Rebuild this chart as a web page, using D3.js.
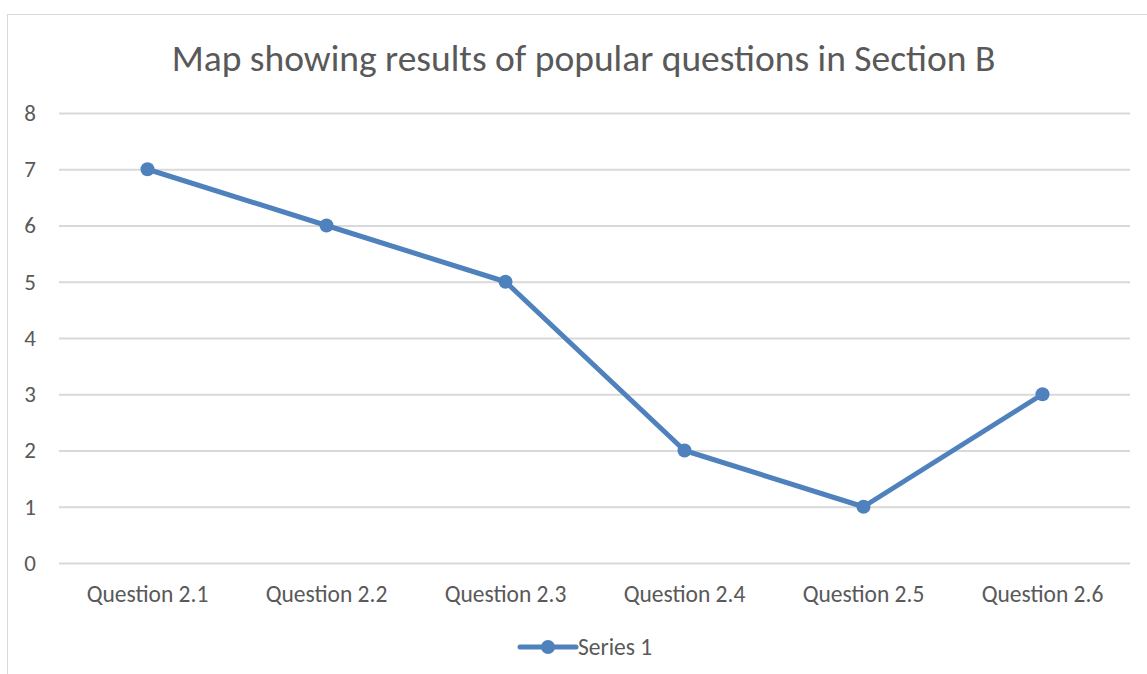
<!DOCTYPE html>
<html><head><meta charset="utf-8">
<script src="https://cdn.jsdelivr.net/npm/d3@7"></script>
<style>body{margin:0;background:#fff}</style>
</head><body><svg id="c" width="1147" height="674"></svg>
<script>
const categories = ["Question 2.1","Question 2.2","Question 2.3","Question 2.4","Question 2.5","Question 2.6"];
const values = [7,6,5,2,1,3];
const yTicks = [0,1,2,3,4,5,6,7,8];
const title = "Map showing results of popular questions in Section B";
const seriesName = "Series 1";

const FONT = "Carlito,Calibri,'Open Sans','Liberation Sans',sans-serif";
const svg = d3.select("#c").attr("font-family",FONT);
const color = "#4f81bd", txt = "#595959", grid = "#d9d9d9";
svg.append("rect").attr("x",7.5).attr("y",14.5).attr("width",1160).attr("height",680)
  .attr("fill","#fff").attr("stroke","#d9d9d9");

const L = 58, R = 1132, T = 113, B = 563;
const x = d3.scaleBand().domain(categories).range([L,R]);
const y = d3.scaleLinear().domain([0,8]).range([B,T]);

svg.append("text").attr("x",583.5).attr("y",71).attr("text-anchor","middle")
  .attr("font-size",37.5).attr("fill",txt).attr("font-family",FONT).text(title);

const gy = svg.append("g").attr("transform",`translate(${L},0)`)
  .call(d3.axisLeft(y).tickValues(yTicks).tickSize(-(R-L-2)).tickPadding(22).tickFormat(d3.format("d")));
gy.attr("font-family",FONT);
gy.select(".domain").remove();
gy.selectAll(".tick line").attr("stroke",grid).attr("stroke-width",2).attr("x1",1);
gy.selectAll(".tick text").attr("font-size",23).attr("fill",txt);

const gx = svg.append("g").attr("transform",`translate(0,${B})`)
  .call(d3.axisBottom(x).tickSize(0).tickPadding(22));
gx.attr("font-family",FONT);
gx.select(".domain").remove();
gx.selectAll(".tick text").attr("font-size",23.5).attr("fill",txt);

const cx = d => x(d) + x.bandwidth()/2;
const pts = categories.map((c,i)=>[cx(c), y(values[i])]);
svg.append("path").attr("d", d3.line()(pts)).attr("fill","none")
  .attr("stroke",color).attr("stroke-width",5).attr("stroke-linejoin","round");
svg.selectAll("circle.m").data(pts).join("circle").attr("class","m")
  .attr("cx",d=>d[0]).attr("cy",d=>d[1]).attr("r",7).attr("fill",color);

const lg = svg.append("g").attr("transform","translate(520,647)");
lg.append("line").attr("x1",0).attr("x2",56).attr("stroke",color).attr("stroke-width",5).attr("stroke-linecap","round");
lg.append("circle").attr("cx",28).attr("r",7).attr("fill",color);
lg.append("text").attr("x",58).attr("y",8).attr("font-size",23.5).attr("fill",txt).attr("font-family",FONT).text(seriesName);
</script></body></html>
